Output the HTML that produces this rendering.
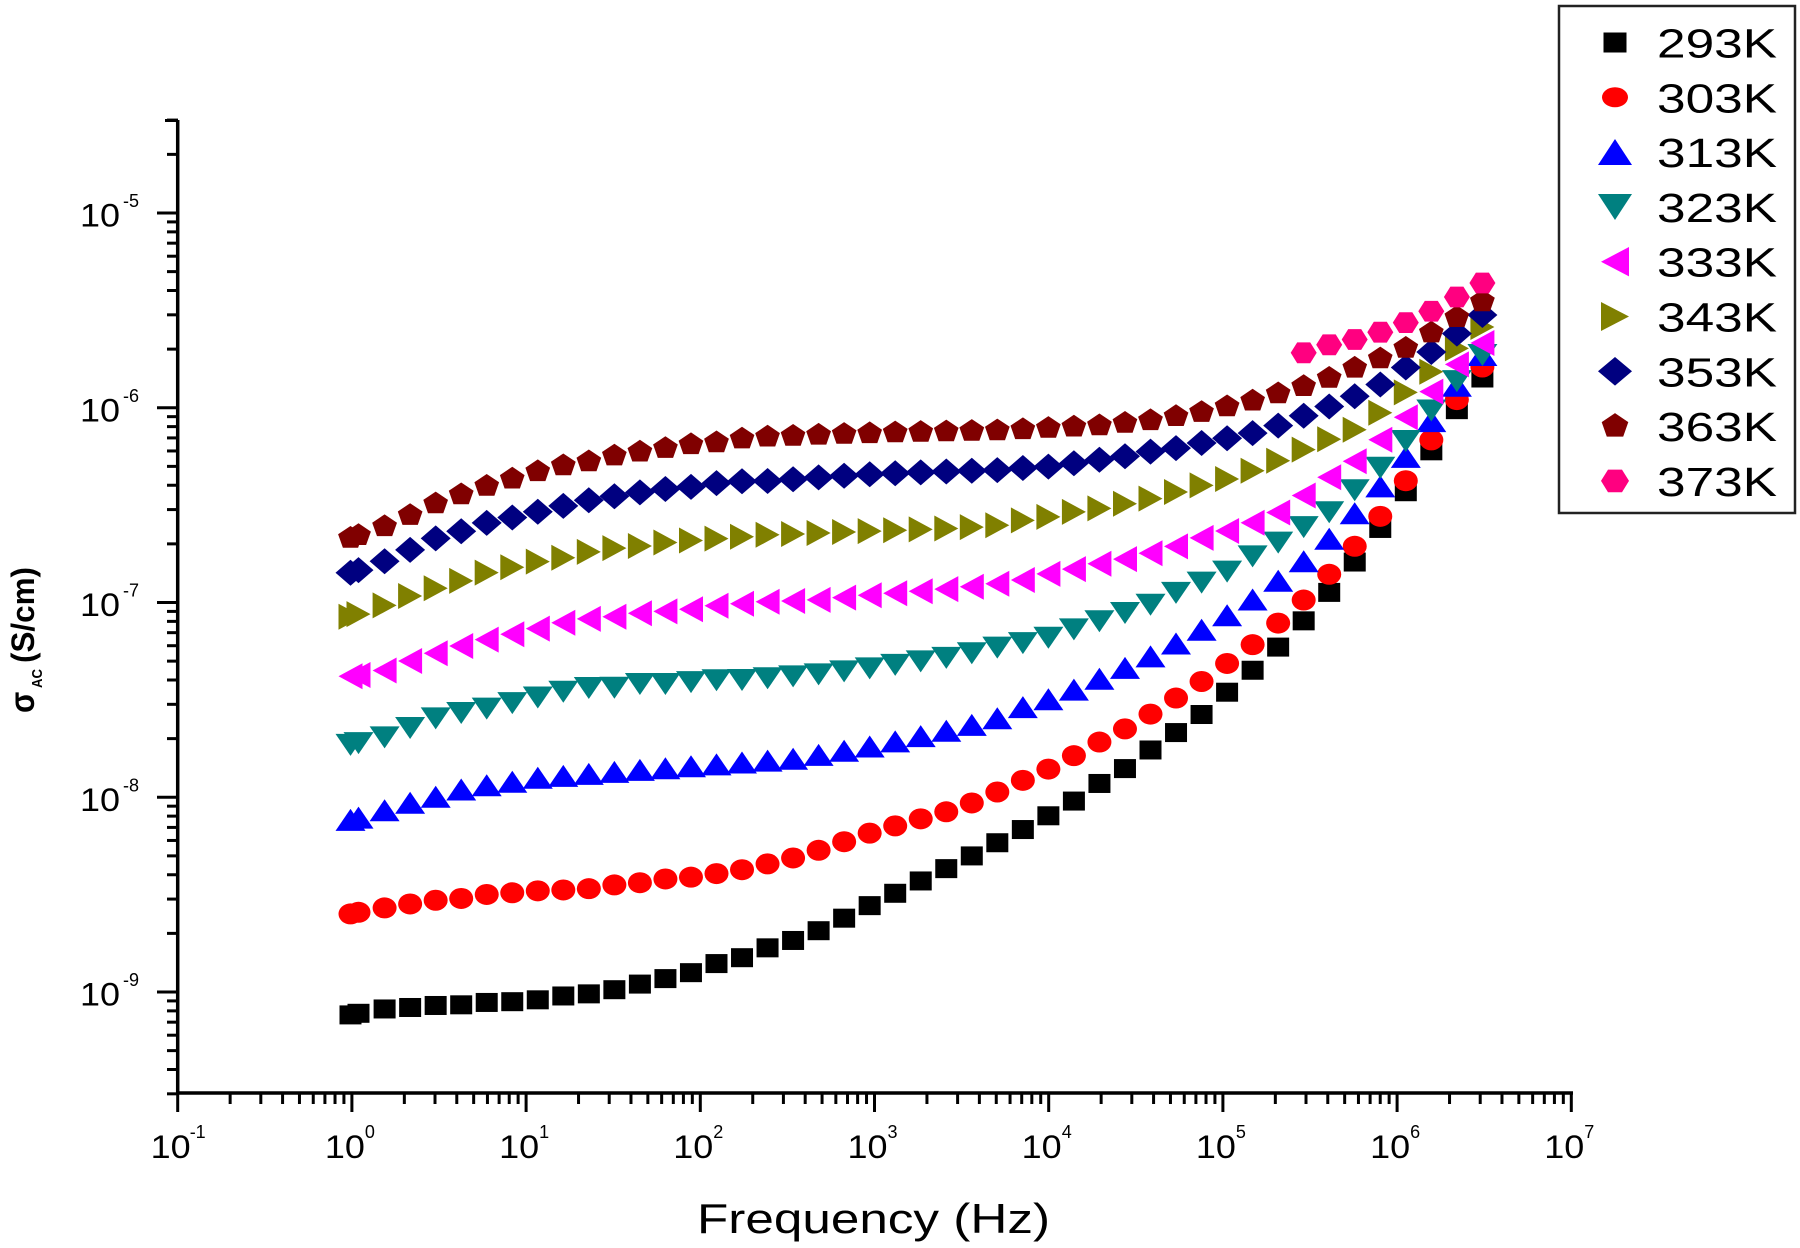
<!DOCTYPE html>
<html>
<head>
<meta charset="utf-8">
<style>
html,body{margin:0;padding:0;background:#fff;}
svg{display:block;}
text{font-family:"Liberation Sans",Arial,sans-serif;fill:#000;}
</style>
</head>
<body>
<svg id="chart" width="1800" height="1248" viewBox="0 0 1800 1248" xmlns="http://www.w3.org/2000/svg">
<rect x="0" y="0" width="1800" height="1248" fill="#fff"/>
<g id="ticks" stroke="#000" stroke-width="3"></g>
<!-- axes -->
<line x1="177.7" y1="120" x2="177.7" y2="1094.5" stroke="#000" stroke-width="3.5"/>
<line x1="176" y1="1093" x2="1573" y2="1093" stroke="#000" stroke-width="3.5"/>

<!-- y tick labels -->
<g font-size="32">
<text x="120" y="226.5" text-anchor="end" textLength="40" lengthAdjust="spacingAndGlyphs">10</text>
<text x="120" y="421.3" text-anchor="end" textLength="40" lengthAdjust="spacingAndGlyphs">10</text>
<text x="120" y="616" text-anchor="end" textLength="40" lengthAdjust="spacingAndGlyphs">10</text>
<text x="120" y="810.8" text-anchor="end" textLength="40" lengthAdjust="spacingAndGlyphs">10</text>
<text x="120" y="1005.5" text-anchor="end" textLength="40" lengthAdjust="spacingAndGlyphs">10</text>
</g>
<g font-size="18">
<text x="123" y="207">-5</text>
<text x="123" y="401.8">-6</text>
<text x="123" y="596.5">-7</text>
<text x="123" y="791.3">-8</text>
<text x="123" y="986">-9</text>
</g>

<!-- x tick labels -->
<g font-size="32" text-anchor="middle">
<text x="170.7" y="1158" textLength="40" lengthAdjust="spacingAndGlyphs">10</text>
<text x="344.9" y="1158" textLength="40" lengthAdjust="spacingAndGlyphs">10</text>
<text x="519.1" y="1158" textLength="40" lengthAdjust="spacingAndGlyphs">10</text>
<text x="693.3" y="1158" textLength="40" lengthAdjust="spacingAndGlyphs">10</text>
<text x="867.5" y="1158" textLength="40" lengthAdjust="spacingAndGlyphs">10</text>
<text x="1041.7" y="1158" textLength="40" lengthAdjust="spacingAndGlyphs">10</text>
<text x="1215.9" y="1158" textLength="40" lengthAdjust="spacingAndGlyphs">10</text>
<text x="1390.1" y="1158" textLength="40" lengthAdjust="spacingAndGlyphs">10</text>
<text x="1564.3" y="1158" textLength="40" lengthAdjust="spacingAndGlyphs">10</text>
</g>
<g font-size="18">
<text x="189.7" y="1138">-1</text>
<text x="364.9" y="1138">0</text>
<text x="539.1" y="1138">1</text>
<text x="713.3" y="1138">2</text>
<text x="887.5" y="1138">3</text>
<text x="1061.7" y="1138">4</text>
<text x="1235.9" y="1138">5</text>
<text x="1410.1" y="1138">6</text>
<text x="1584.3" y="1138">7</text>
</g>

<!-- axis titles -->
<text x="697" y="1233" font-size="42" textLength="353" lengthAdjust="spacingAndGlyphs">Frequency (Hz)</text>
<g transform="translate(34,725) rotate(-90) scale(1,1.15)" font-weight="bold">
<text x="12" y="0" font-size="31">σ</text>
<text x="37" y="7" font-size="13" textLength="19" lengthAdjust="spacingAndGlyphs">AC</text>
<text x="62" y="0" font-size="28" textLength="96" lengthAdjust="spacingAndGlyphs">(S/cm)</text>
</g>

<!-- data -->
<g id="data"></g>

<!-- legend -->
<rect x="1559" y="6" width="236" height="507" fill="#fff" stroke="#222" stroke-width="2.5"/>
<rect x="1603.5" y="32.5" width="23" height="20" fill="#000"/>
<ellipse cx="1615" cy="97.3" rx="13" ry="10" fill="#ff0000"/>
<polygon points="1598,165 1632,165 1615,139" fill="#0000ff"/>
<polygon points="1598,194 1632,194 1615,220" fill="#008080"/>
<polygon points="1601,261.7 1629,247 1629,276.4" fill="#ff00ff"/>
<polygon points="1629,316.5 1601,302 1601,331" fill="#808000"/>
<polygon points="1615,357 1632,371.3 1615,385.6 1598,371.3" fill="#000080"/>
<polygon points="1615,413.1 1628.3,422.1 1623.2,436.6 1606.8,436.6 1601.7,422.1" fill="#800000"/>
<polygon points="1629,480.9 1622,469.6 1608,469.6 1601,480.9 1608,492.2 1622,492.2" fill="#ff0080"/>
<g font-size="41">
<text x="1657" y="57.5" textLength="120" lengthAdjust="spacingAndGlyphs">293K</text>
<text x="1657" y="112.3" textLength="120" lengthAdjust="spacingAndGlyphs">303K</text>
<text x="1657" y="167.1" textLength="120" lengthAdjust="spacingAndGlyphs">313K</text>
<text x="1657" y="221.9" textLength="120" lengthAdjust="spacingAndGlyphs">323K</text>
<text x="1657" y="276.7" textLength="120" lengthAdjust="spacingAndGlyphs">333K</text>
<text x="1657" y="331.5" textLength="120" lengthAdjust="spacingAndGlyphs">343K</text>
<text x="1657" y="386.3" textLength="120" lengthAdjust="spacingAndGlyphs">353K</text>
<text x="1657" y="441.1" textLength="120" lengthAdjust="spacingAndGlyphs">363K</text>
<text x="1657" y="495.9" textLength="120" lengthAdjust="spacingAndGlyphs">373K</text>
</g>
</svg>

<script>
(function(){
var NS="http://www.w3.org/2000/svg";
var ticks=document.getElementById("ticks");
function line(x1,y1,x2,y2){var l=document.createElementNS(NS,"line");l.setAttribute("x1",x1);l.setAttribute("y1",y1);l.setAttribute("x2",x2);l.setAttribute("y2",y2);ticks.appendChild(l);}
function yOf(L){return 213+(-5-L)*194.75;}
for(var d=-10;d<=-5;d++){
  for(var m=1;m<=9;m++){
    var L=d+Math.log10(m);
    if(L<-9.53||L>-4.52)continue;
    var y=yOf(L);
    if(m==1) line(157,y,178,y); else line(167,y,178,y);
  }
}
line(165,120.5,178,120.5);
function xOf(n){return 177.7+(n+1)*174.2;}
for(var n=-1;n<=7;n++){
  for(var m=1;m<=9;m++){
    if(n==7&&m>1)continue;
    var x=xOf(n+Math.log10(m));
    if(m==1) line(x,1093,x,1112); else line(x,1093,x,1104);
  }
}

var xs=[350.5,358.5];
for(var k=0;k<44;k++) xs.push(384.6+25.53*k);

function interp(cp,x){
  if(x<=cp[0][0]) return cp[0][1];
  for(var i=1;i<cp.length;i++){
    if(x<=cp[i][0]){var a=cp[i-1],b=cp[i];return a[1]+(b[1]-a[1])*(x-a[0])/(b[0]-a[0]);}
  }
  return cp[cp.length-1][1];
}

var series=[
 {t:"sq",c:"#000000",cp:[[350,1015],[360,1013],[384,1009],[410,1007.5],[435,1005.5],[462,1004.8],[485,1002.5],[512,1001.7],[538,999.8],[563,996],[588,994],[613,990],[638,984.5],[665,978.7],[690,973],[717,963.4],[742,957.7],[767,948],[793,940.5],[818,931],[873,904],[960,862],[1022,830],[1048,816],[1073,801.7],[1098,784.3],[1124,769.3],[1149,751],[1175,733.3],[1201,715],[1225,694],[1251,671.7],[1276,649.3],[1302,622.7],[1327,595],[1353,564.3],[1378,531.7],[1405,493],[1430,453],[1455,412],[1482,378]]},
 {t:"ci",c:"#ff0000",cp:[[350,914],[360,912],[384,908],[410,904],[435,900.3],[462,898.4],[485,894.6],[512,892.8],[538,890.8],[563,890],[588,888.8],[613,885],[638,883],[665,879],[690,877.3],[717,873.5],[742,869.7],[767,864],[793,858],[818,850.5],[873,832],[960,808],[1002,790],[1022,780.7],[1048,769.3],[1072,756.7],[1097,743.3],[1123,730],[1149,715],[1173,700],[1199,683.3],[1225,665],[1251,646],[1276,625],[1302,601.7],[1327,576.7],[1353,548.3],[1380,516.7],[1405,482],[1430,442],[1455,402],[1482,367]]},
 {t:"tu",c:"#0000ff",cp:[[350,820],[384,810.4],[410,802.7],[435,797],[462,789.3],[485,785.5],[512,781.7],[538,777.8],[563,775.9],[588,774],[613,772],[638,770],[665,768.3],[690,766.3],[717,764.4],[742,762.5],[767,760.6],[793,758.7],[818,755],[873,746],[960,728],[1002,717],[1023,707],[1048,699.3],[1073,690],[1098,679.3],[1124,668.3],[1150,656.7],[1175,644],[1200,630.7],[1226,616],[1252,600],[1277,581.7],[1302,562.7],[1328,540],[1353,515],[1380,486.7],[1405,458],[1430,423],[1455,388],[1482,355]]},
 {t:"td",c:"#008080",cp:[[350,745],[384,737.6],[410,728],[435,718.5],[462,712.8],[485,709],[512,703.2],[538,697.5],[563,691.7],[588,688],[613,688],[638,684],[665,684],[690,682.2],[717,680.2],[742,680],[767,678.3],[793,676.4],[818,674.5],[873,668],[960,656],[1000,647],[1022,643.3],[1047,638.3],[1072,630],[1098,621.7],[1124,613.3],[1150,605],[1175,593.3],[1200,583.3],[1227,571.7],[1252,556.7],[1277,543.3],[1302,528],[1328,513.3],[1355,490],[1380,468],[1405,442],[1430,412],[1455,383],[1482,355]]},
 {t:"tl",c:"#ff00ff",cp:[[350,676.4],[384,670.7],[410,661],[435,653.4],[462,645.8],[485,640],[512,634.3],[538,628.6],[563,622.8],[588,619],[613,617],[638,613.3],[665,611.4],[690,609.4],[717,605.6],[742,603.7],[767,601.8],[793,601],[818,600],[873,595],[960,588],[1002,583.3],[1023,580],[1048,574],[1073,569.3],[1098,564],[1124,559.3],[1150,553.3],[1175,546.7],[1200,538.3],[1225,531.7],[1251,523.3],[1277,513.3],[1303,496],[1328,478],[1355,461],[1380,440],[1405,418],[1430,393],[1455,366],[1482,343]]},
 {t:"tr",c:"#808000",cp:[[350,617],[384,605.6],[410,596],[435,588.4],[462,580.7],[485,573],[512,567.3],[538,561.6],[563,557.8],[588,552],[613,548.2],[638,546.3],[665,542.5],[690,540.6],[717,538.6],[742,536.7],[767,534.8],[793,534],[818,533],[873,531],[960,528],[1000,525],[1025,520],[1050,516.7],[1075,511.7],[1100,508.3],[1127,503.3],[1152,498.3],[1177,491.7],[1203,485],[1230,478.3],[1255,470],[1280,460],[1305,449],[1330,439],[1357,429],[1380,413],[1405,393],[1430,373],[1455,350],[1482,327]]},
 {t:"di",c:"#000080",cp:[[350,573],[384,561.6],[410,550],[435,538.6],[462,531],[485,523.3],[512,517.6],[538,511.8],[563,506],[588,500.4],[613,496.5],[638,492.7],[665,489],[690,487],[717,483],[742,481.2],[767,481],[793,479.3],[818,477.4],[873,474],[960,471],[1000,470],[1023,468],[1048,466.7],[1073,463.3],[1098,460],[1123,456.7],[1150,451.7],[1175,448.3],[1200,443.3],[1227,438.3],[1253,433],[1277,426],[1303,416],[1328,407],[1353,397],[1378,386],[1405,368],[1430,353],[1455,335],[1482,315]]},
 {t:"pe",c:"#800000",cp:[[350,536.7],[384,525.2],[410,513.8],[435,502.3],[462,492.7],[485,485],[512,477.4],[538,469.8],[563,464],[588,460.2],[613,454.4],[638,450.6],[665,446.8],[690,443],[717,441],[742,437.2],[767,435.3],[793,434.5],[818,433.4],[900,431],[1000,429],[1100,424],[1150,419],[1200,411],[1250,400],[1303,385],[1328,377],[1353,367],[1378,358],[1405,347],[1430,332],[1455,317],[1482,300]]},
 {t:"hx",c:"#ff0080",start:1300,cp:[[1303,353],[1328,345],[1353,340],[1378,333],[1405,323],[1430,312],[1455,298],[1482,283]]}
];

var g=document.getElementById("data");
function poly(pts,c){var p=document.createElementNS(NS,"polygon");p.setAttribute("points",pts.map(function(q){return q[0].toFixed(1)+","+q[1].toFixed(1);}).join(" "));p.setAttribute("fill",c);g.appendChild(p);}
function marker(t,x,y,c){
  if(t=="sq"){var r=document.createElementNS(NS,"rect");r.setAttribute("x",x-11);r.setAttribute("y",y-9.5);r.setAttribute("width",22);r.setAttribute("height",19);r.setAttribute("fill",c);g.appendChild(r);}
  else if(t=="ci"){var e=document.createElementNS(NS,"ellipse");e.setAttribute("cx",x);e.setAttribute("cy",y);e.setAttribute("rx",12);e.setAttribute("ry",10.5);e.setAttribute("fill",c);g.appendChild(e);}
  else if(t=="tu"){poly([[x-15,y+11],[x+15,y+11],[x,y-11]],c);}
  else if(t=="td"){poly([[x-15,y-11],[x+15,y-11],[x,y+11]],c);}
  else if(t=="tl"){poly([[x-12,y],[x+12,y-13],[x+12,y+13]],c);}
  else if(t=="tr"){poly([[x+12,y],[x-12,y-13],[x-12,y+13]],c);}
  else if(t=="di"){poly([[x,y-13],[x+15,y],[x,y+13],[x-15,y]],c);}
  else if(t=="pe"){var pts=[];for(var i=0;i<5;i++){var a=(-90+72*i)*Math.PI/180;pts.push([x+13*Math.cos(a),y+1.5+12*Math.sin(a)]);}poly(pts,c);}
  else if(t=="hx"){var pts=[];for(var i=0;i<6;i++){var a=(60*i)*Math.PI/180;pts.push([x+13*Math.cos(a),y+12*Math.sin(a)]);}poly(pts,c);}
}
series.forEach(function(s){
  xs.forEach(function(x){
    if(s.start && x<s.start) return;
    marker(s.t,x,interp(s.cp,x),s.c);
  });
});
})();
</script>
</body>
</html>
